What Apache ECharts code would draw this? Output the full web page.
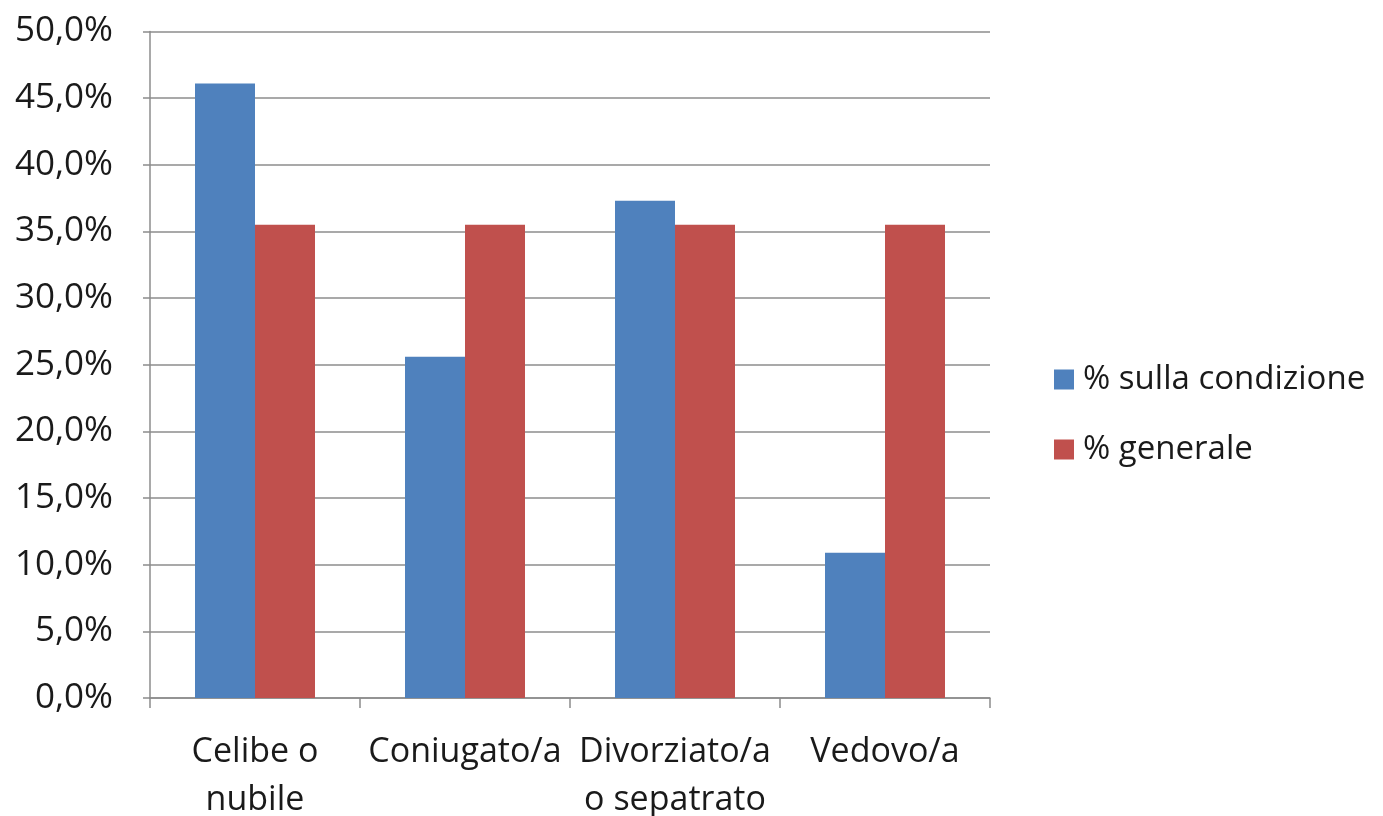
<!DOCTYPE html>
<html>
<head>
<meta charset="utf-8">
<script src="https://cdn.jsdelivr.net/npm/echarts@6/dist/echarts.min.js"></script>
<style>
  html, body { margin: 0; padding: 0; background: #fff; }
  #chart { width: 1383px; height: 816px; }
</style>
</head>
<body>
<div id="chart"></div>
<script>
// categorie e valori
var categories = ['Celibe o\nnubile', 'Coniugato/a', 'Divorziato/a\no sepatrato', 'Vedovo/a'];
var sullaCondizione = [46.1, 25.6, 37.3, 10.9];
var generale = [35.5, 35.5, 35.5, 35.5];
var seriesNames = ['% sulla condizione', '% generale'];

var chart = echarts.init(document.getElementById('chart'));
var font = 'Open Sans';
var gridColor = '#8c8c8c';

var option = {
    animation: false,
    textStyle: { fontFamily: font },
    grid: {
        left: 150,
        right: 393,
        top: 31.5,
        bottom: 118,
        containLabel: false,
        outerBoundsMode: 'none'
    },
    legend: {
        orient: 'vertical',
        left: 1054,
        top: 363,
        padding: 0,
        itemWidth: 20,
        itemHeight: 20,
        itemGap: 37,
        icon: 'rect',
        data: seriesNames,
        textStyle: {
            fontFamily: font,
            fontSize: 33,
            lineHeight: 32,
            color: '#1a1a1a',
            padding: [0, 0, 0, 4]
        }
    },
    xAxis: {
        type: 'category',
        data: categories,
        axisLine: { show: true, lineStyle: { color: gridColor, width: 1.5 } },
        axisTick: { show: true, length: 10, alignWithLabel: false, lineStyle: { color: gridColor, width: 1.5 } },
        axisLabel: {
            interval: 0,
            margin: 30,
            fontFamily: font,
            fontSize: 34,
            lineHeight: 48,
            color: '#1a1a1a'
        }
    },
    yAxis: {
        type: 'value',
        min: 0,
        max: 50,
        interval: 5,
        axisLine: { show: true, lineStyle: { color: gridColor, width: 1.5 } },
        axisTick: { show: true, length: 7, lineStyle: { color: gridColor, width: 1.5 } },
        splitLine: { show: true, lineStyle: { color: gridColor, width: 1.5 } },
        axisLabel: {
            margin: 37,
            fontFamily: font,
            fontSize: 35,
            color: '#1a1a1a',
            formatter: function (value) {
                return value.toFixed(1).replace('.', ',') + '%';
            }
        }
    },
    series: [
        {
            name: seriesNames[0],
            type: 'bar',
            barWidth: 60,
            barGap: '0%',
            data: sullaCondizione,
            itemStyle: { color: '#4f81bd' }
        },
        {
            name: seriesNames[1],
            type: 'bar',
            barWidth: 60,
            barGap: '0%',
            data: generale,
            itemStyle: { color: '#c0504d' }
        }
    ]
};
chart.setOption(option);
</script>
</body>
</html>
